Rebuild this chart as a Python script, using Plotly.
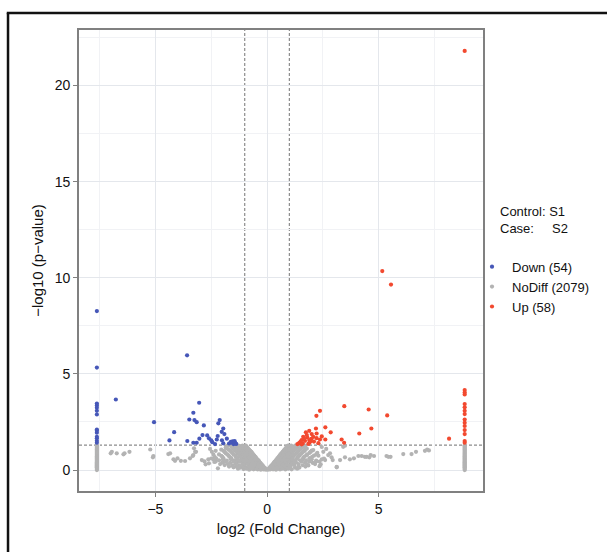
import plotly.graph_objects as go

# ---- significance thresholds ----
fc_cut = 1.0          # |log2 FC| cut-off
p_cut_log = 1.301     # -log10(0.05)

# ---- down-regulated genes ----
down_x = [-7.62, -7.62, -7.62, -7.62, -7.62, -7.62, -7.62, -7.62, -7.62, -7.62,
          -7.62, -7.62, -7.62, -7.62,
          -6.77, -5.06, -4.16, -4.37, -3.57, -3.58, -3.04, -3.30, -3.48, -3.25,
          -3.15, -2.83, -3.30, -3.15, -3.03, -2.89, -2.68, -2.60, -2.45, -2.33,
          -2.25, -2.21, -2.18, -2.12, -2.03, -1.96, -1.91, -1.80, -1.96, -1.54,
          -1.48, -1.42, -1.58, -1.50, -1.62, -1.45, -1.38, -2.50, -2.02, -1.70]
down_y = [8.27, 5.33, 3.46, 3.36, 3.24, 3.08, 2.89, 2.11, 2.04, 1.94,
          1.73, 1.65, 1.52, 1.42,
          3.67, 2.49, 1.97, 1.54, 1.51, 5.97, 3.50, 2.98, 2.63, 2.60,
          2.49, 2.32, 1.42, 1.42, 1.63, 1.82, 1.80, 1.65, 1.45, 1.35,
          1.59, 1.77, 2.43, 2.60, 1.99, 2.16, 1.87, 1.63, 1.39, 1.49,
          1.44, 1.39, 1.42, 1.35, 1.47, 1.50, 1.36, 1.55, 1.55, 1.38]

# ---- up-regulated genes ----
up_x = [8.85, 8.85, 8.85, 8.85, 8.85, 8.85, 8.85, 8.85, 8.85, 8.85,
        8.85, 8.85, 8.85, 8.85, 8.85,
        5.16, 5.55,
        2.37, 2.21, 3.46, 4.55, 5.38, 4.67, 4.13, 3.34, 3.45, 2.61,
        2.85, 2.61, 2.19, 2.22, 1.89, 1.74, 2.00, 2.07, 1.80, 1.62,
        1.55, 1.70, 1.89, 1.45, 1.36, 1.60, 1.90, 2.22, 2.37, 8.15,
        1.50, 1.42, 1.66, 1.78, 1.98, 2.10, 1.55, 2.30, 2.45, 1.85,
        1.95]
up_y = [21.80, 4.16, 4.04, 3.93, 3.43, 3.26, 3.08, 2.91, 2.63, 2.46,
        2.29, 2.08, 1.87, 1.51, 1.42,
        10.35, 9.65,
        3.08, 2.82, 3.32, 3.15, 2.84, 2.16, 1.90, 1.59, 1.42, 2.22,
        1.96, 1.59, 2.16, 1.90, 2.04, 1.96, 1.87, 1.73, 1.70, 1.73,
        1.56, 1.52, 1.56, 1.42, 1.35, 1.38, 1.42, 1.66, 1.59, 1.63,
        1.48, 1.38, 1.62, 1.82, 1.62, 1.48, 1.34, 1.40, 1.75, 1.36,
        1.50]

# ---- not significant: genes capped at the fold-change limits ----
nodiff_col_left_x = -7.62
nodiff_col_right_x = 8.85
nodiff_col_y = [0.00, 0.05, 0.10, 0.15, 0.20, 0.25, 0.30, 0.35, 0.40, 0.45,
                0.50, 0.55, 0.60, 0.65, 0.70, 0.75, 0.80, 0.85, 0.90, 0.95,
                1.00, 1.05, 1.10, 1.15, 1.20, 1.25, 1.29]

# ---- not significant: central funnel ----
nodiff_v_x = [
    -0.05, 0.04, -0.15, 0.14, -0.28, 0.27, -0.42, 0.40, -0.60, 0.58, -0.80, 0.82, -1.05, 1.10,
    -0.10, 0.12, -0.25, 0.22, -0.38, 0.36, -0.55, 0.50, -0.72, 0.70, -0.95, 0.90, -1.20, 1.25, -1.50, 1.45,
    -0.20, 0.20, -0.33, 0.32, -0.48, 0.45, -0.62, 0.60, -0.80, 0.78, -1.00, 0.98, -1.25, 1.22, -1.55, 1.60, -1.90, 1.85,
    -0.30, 0.30, -0.45, 0.42, -0.58, 0.55, -0.75, 0.72, -0.90, 0.88, -1.10, 1.08, -1.35, 1.30, -1.65, 1.70, -2.00, 2.05,
    -0.38, 0.40, -0.52, 0.50, -0.68, 0.65, -0.85, 0.82, -1.02, 1.00, -1.20, 1.22, -1.45, 1.48, -1.80, 1.75, -2.15, 2.20,
    -0.48, 0.47, -0.60, 0.60, -0.78, 0.75, -0.95, 0.92, -1.12, 1.10, -1.32, 1.35, -1.60, 1.62, -1.95, 1.90,
    -0.57, 0.56, -0.70, 0.70, -0.85, 0.85, -1.02, 1.02, -1.20, 1.20, -1.42, 1.45, -1.72, 1.75, -2.05, 2.10,
    -0.66, 0.65, -0.80, 0.78, -0.95, 0.95, -1.12, 1.10, -1.30, 1.32, -1.55, 1.55, -1.85, 1.90,
    -0.75, 0.74, -0.88, 0.88, -1.02, 1.02, -1.20, 1.18, -1.40, 1.42, -1.65, 1.68, -1.95, 2.00,
    -0.85, 0.83, -0.98, 0.96, -1.12, 1.10, -1.30, 1.28, -1.50, 1.52, -1.80, 1.78,
    -0.92, 0.90, -1.05, 1.04, -1.20, 1.18, -1.38, 1.36, -1.60, 1.62,
]
nodiff_v_y = [
    0.02, 0.02, 0.03, 0.03, 0.02, 0.04, 0.03, 0.02, 0.04, 0.03, 0.02, 0.03, 0.05, 0.04,
    0.12, 0.12, 0.13, 0.11, 0.12, 0.13, 0.12, 0.11, 0.13, 0.12, 0.11, 0.13, 0.12, 0.12, 0.14, 0.13,
    0.25, 0.25, 0.24, 0.26, 0.25, 0.24, 0.26, 0.25, 0.24, 0.25, 0.26, 0.24, 0.25, 0.26, 0.24, 0.25, 0.26, 0.24,
    0.38, 0.38, 0.37, 0.39, 0.38, 0.37, 0.39, 0.38, 0.37, 0.38, 0.39, 0.37, 0.38, 0.39, 0.37, 0.38, 0.39, 0.37,
    0.50, 0.50, 0.49, 0.51, 0.50, 0.49, 0.51, 0.50, 0.49, 0.50, 0.51, 0.49, 0.50, 0.51, 0.49, 0.50, 0.51, 0.49,
    0.62, 0.62, 0.61, 0.63, 0.62, 0.61, 0.63, 0.62, 0.61, 0.62, 0.63, 0.61, 0.62, 0.63, 0.61, 0.62,
    0.75, 0.75, 0.74, 0.76, 0.75, 0.74, 0.76, 0.75, 0.74, 0.75, 0.76, 0.74, 0.75, 0.76, 0.74, 0.75,
    0.88, 0.88, 0.87, 0.89, 0.88, 0.87, 0.89, 0.88, 0.87, 0.88, 0.89, 0.87, 0.88, 0.89,
    1.00, 1.00, 0.99, 1.01, 1.00, 0.99, 1.01, 1.00, 0.99, 1.00, 1.01, 0.99, 1.00, 1.01,
    1.12, 1.12, 1.11, 1.13, 1.12, 1.11, 1.13, 1.12, 1.11, 1.12, 1.13, 1.11,
    1.22, 1.22, 1.21, 1.23, 1.22, 1.21, 1.23, 1.22, 1.21, 1.23,
]

# second, interleaved layer of the funnel: (-log10 p, [log2 FC values])
funnel_rows = [
    (0.07, [-0.09, 0.08, -0.20, 0.19, -0.34, 0.33, -0.50, 0.48, -0.70, 0.68, -0.92, 0.95, -1.30, 1.35]),
    (0.18, [-0.16, 0.15, -0.30, 0.28, -0.44, 0.42, -0.62, 0.60, -0.82, 0.80, -1.08, 1.05, -1.38, 1.40, -1.70, 1.72]),
    (0.31, [-0.25, 0.26, -0.40, 0.38, -0.55, 0.52, -0.70, 0.68, -0.88, 0.86, -1.10, 1.12, -1.40, 1.42, -1.75, 1.78, -2.10, 2.15]),
    (0.44, [-0.35, 0.34, -0.50, 0.48, -0.65, 0.63, -0.82, 0.80, -1.00, 0.98, -1.22, 1.20, -1.50, 1.55, -1.85, 1.90, -2.30, 2.35]),
    (0.56, [-0.44, 0.43, -0.58, 0.57, -0.74, 0.72, -0.92, 0.90, -1.10, 1.12, -1.32, 1.30, -1.62, 1.60, -1.98, 2.00, -2.40, 2.45]),
    (0.69, [-0.52, 0.52, -0.66, 0.65, -0.82, 0.80, -1.00, 0.98, -1.18, 1.16, -1.40, 1.38, -1.68, 1.66, -2.00, 2.02, -2.35]),
    (0.81, [-0.62, 0.60, -0.76, 0.74, -0.90, 0.90, -1.08, 1.06, -1.26, 1.25, -1.50, 1.48, -1.78, 1.80, -2.15, 2.20]),
    (0.94, [-0.70, 0.70, -0.84, 0.84, -1.00, 0.98, -1.16, 1.15, -1.35, 1.36, -1.60, 1.60, -1.90, 1.95]),
    (1.06, [-0.80, 0.78, -0.94, 0.92, -1.08, 1.06, -1.25, 1.24, -1.45, 1.46, -1.72, 1.70, -2.05]),
    (1.17, [-0.88, 0.86, -1.02, 1.00, -1.16, 1.14, -1.34, 1.32, -1.55, 1.56, -1.85]),
    (1.27, [-0.95, 0.94, -1.10, 1.08, -1.28, 1.26, -1.48, 1.50, -1.75, 1.72]),
]

# ---- not significant: scattered genes ----
nodiff_s_x = [-7.00, -6.73, -6.43, -6.16, -6.95, -6.38, -5.23, -5.09, -5.11, -4.42,
              -4.34, -4.01, -4.12, -4.19, -3.86, -3.67, -3.45, -3.30, -3.18, -3.33,
              -3.22, -3.27, -2.92, -2.80, -2.63, -2.50, -2.28, -2.47, -2.36, -2.20,
              -2.40, -2.60, -2.75, -2.30, -2.55,
              2.82, 2.94, 3.12, 3.49, 3.71, 3.89, 4.24, 4.38, 4.58, 4.64,
              4.79, 5.35, 5.53, 6.10, 6.47, 6.67, 7.07, 7.17, 7.25, 3.41,
              3.49, 2.07, 2.25, 2.52, 2.74, 2.89, 2.60, 3.12, 3.27, 4.09,
              4.46, 5.43, 2.40, 2.55, 2.30, 2.65, 2.45, 2.20, 2.35]
nodiff_s_y = [0.87, 0.87, 0.82, 0.95, 0.95, 0.87, 1.07, 0.73, 0.66, 0.83,
              0.87, 0.61, 0.48, 0.56, 0.48, 0.47, 0.61, 0.78, 0.95, 0.73,
              0.95, 1.13, 0.52, 0.45, 0.56, 0.60, 0.61, 0.95, 0.42, 0.09,
              0.80, 0.35, 0.30, 1.00, 1.10,
              0.87, 0.52, 0.17, 0.66, 0.56, 0.61, 0.73, 0.69, 0.66, 0.78,
              0.73, 0.73, 0.69, 0.83, 0.83, 0.95, 1.00, 1.07, 1.02, 1.21,
              1.27, 1.04, 0.90, 0.95, 0.78, 0.66, 0.52, 0.14, 0.52, 0.73,
              0.69, 0.69, 0.30, 0.60, 0.75, 1.10, 1.20, 0.45, 0.20]

funnel_x = [fc for _, row in funnel_rows for fc in row]
funnel_y = [lp for lp, row in funnel_rows for _ in row]

nodiff_x = ([nodiff_col_left_x] * len(nodiff_col_y) + [nodiff_col_right_x] * len(nodiff_col_y)
            + nodiff_v_x + funnel_x + nodiff_s_x)
nodiff_y = nodiff_col_y + nodiff_col_y + nodiff_v_y + funnel_y + nodiff_s_y

legend_labels = ["Down (54)", "NoDiff (2079)", "Up (58)"]
colors = {"down": "#4657b8", "nodiff": "#b3b3b3", "up": "#f2492f"}

FONT = "Liberation Sans, Arial, Helvetica, sans-serif"
PT = 4.2

fig = go.Figure()
# grey cloud first so the coloured genes sit on top of it
fig.add_trace(go.Scatter(x=nodiff_x, y=nodiff_y, mode="markers", name=legend_labels[1],
                         legendrank=2, marker=dict(color=colors["nodiff"], size=PT)))
fig.add_trace(go.Scatter(x=down_x, y=down_y, mode="markers", name=legend_labels[0],
                         legendrank=1, marker=dict(color=colors["down"], size=PT)))
fig.add_trace(go.Scatter(x=up_x, y=up_y, mode="markers", name=legend_labels[2],
                         legendrank=3, marker=dict(color=colors["up"], size=PT)))

grid_major = "#e4e7ec"
grid_minor = "#f1f2f5"
frame_grey = "#808080"

axis_common = dict(
    showgrid=True, gridcolor=grid_major, gridwidth=1.2,
    zeroline=False,
    showline=True, linecolor=frame_grey, linewidth=1.6, mirror=True,
    ticks="outside", ticklen=4, tickcolor=frame_grey, tickwidth=1.2,
    tickfont=dict(family=FONT, size=14, color="#111111"),
)

fig.update_layout(
    width=607, height=552,
    margin=dict(l=79, r=124, t=30, b=61, autoexpand=False),
    paper_bgcolor="white", plot_bgcolor="white",
    font=dict(family=FONT, color="#111111"),
    xaxis=dict(range=[-8.42, 9.67], tickvals=[-5, 0, 5],
               minor=dict(tickvals=[-7.5, -2.5, 2.5, 7.5], showgrid=True,
                          gridcolor=grid_minor, gridwidth=1, ticks=""),
               title=dict(text="log2 (Fold Change)", font=dict(size=15), standoff=8),
               **axis_common),
    yaxis=dict(range=[-1.09, 22.89], tickvals=[0, 5, 10, 15, 20],
               minor=dict(tickvals=[2.5, 7.5, 12.5, 17.5, 22.5], showgrid=True,
                          gridcolor=grid_minor, gridwidth=1, ticks=""),
               title=dict(text="\u2212log10 (p\u2212value)", font=dict(size=15), standoff=8),
               **axis_common),
    legend=dict(x=0.9728, y=0.519, xanchor="left", yanchor="top",
                font=dict(family=FONT, size=13, color="#111111"),
                itemwidth=30, tracegroupgap=0, traceorder="normal",
                bgcolor="rgba(0,0,0,0)"),
    showlegend=True,
)

# threshold guides
dash_style = dict(color="#8c8c8c", width=1.2, dash="3px,2px")
for xv in (-fc_cut, fc_cut):
    fig.add_shape(type="line", xref="x", yref="paper", x0=xv, x1=xv, y0=0, y1=1,
                  line=dash_style, layer="below")
fig.add_shape(type="line", xref="paper", yref="y", x0=0, x1=1, y0=p_cut_log, y1=p_cut_log,
              line=dash_style, layer="below")

# outer frame (left and top edges)
fig.add_shape(type="line", xref="paper", yref="paper", x0=-0.1757, x1=-0.1757,
              y0=1.037, y1=-0.2, line=dict(color="#111111", width=2.5))
fig.add_shape(type="line", xref="paper", yref="paper", x0=-0.1788, x1=1.4,
              y0=1.037, y1=1.037, line=dict(color="#111111", width=2.5))

fig.add_annotation(xref="paper", yref="paper", x=1.037, y=0.5868, xanchor="left", yanchor="middle",
                   text="Control: S1<br>Case:\u00a0\u00a0\u00a0\u00a0\u00a0S2",
                   align="left", showarrow=False,
                   font=dict(family=FONT, size=13, color="#111111"))

fig.write_html("out.html")
